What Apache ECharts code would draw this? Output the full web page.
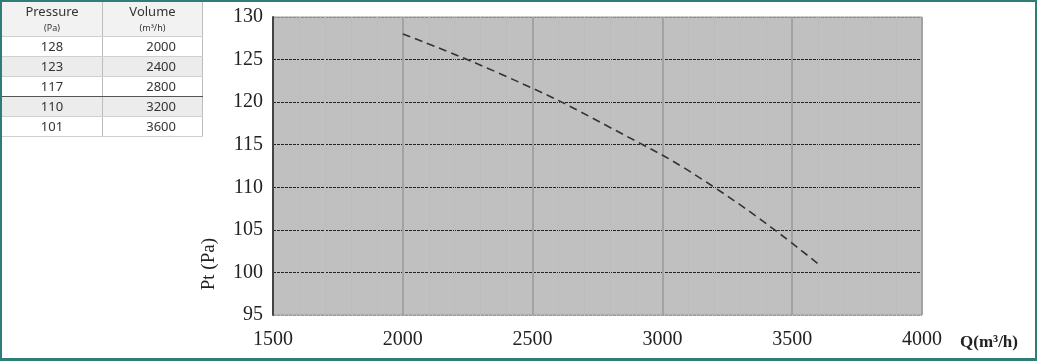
<!DOCTYPE html>
<html>
<head>
<meta charset="utf-8">
<script src="https://cdn.jsdelivr.net/npm/echarts@6/dist/echarts.min.js"></script>
<style>
    html, body { margin: 0; padding: 0; background: #fff; }
    #frame {
        position: absolute; left: 0; top: 0; width: 1037px; height: 361px;
        box-sizing: border-box;
        border-style: solid; border-color: #2e7d79;
        border-width: 2px 2px 3px 2px;
    }
    #chart { position: absolute; left: 0; top: 0; width: 1037px; height: 361px; }
    #table {
        position: absolute; left: 2px; top: 2px;
        border-collapse: collapse;
        font-family: "Noto Sans", sans-serif; color: #333;
    }
    #table td { padding: 0; height: 19px; font-size: 13px; border-bottom: 1px solid #cfcfcf; line-height: 19px; }
    #table td.p { width: 100px; text-align: center; border-right: 1px solid #bdbdbd; }
    #table td.v { width: 100px; text-align: right; padding-right: 26px; box-sizing: border-box; border-right: 1px solid #bdbdbd; }
    #table tr.head td { height: 34px; line-height: 15px; background: #f2f2f2; text-align: center; padding-right: 0; }
    #table tr.head small { font-size: 9px; }
    #table tr.alt td { background: #ececec; }
    #table tr.dark td { border-bottom: 1px solid #555; }
</style>
</head>
<body>
<div id="chart"></div>
<div id="frame"></div>
<table id="table"></table>
<script>
    // 表格和曲线的数据
    const pressure = [128, 123, 117, 110, 101];
    const volume = [2000, 2400, 2800, 3200, 3600];
    const xTicks = [1500, 4000, 500];   // min, max, interval
    const yTicks = [95, 130, 5];

    // 左上角的表格
    let html = '<tr class="head"><td class="p">Pressure<br><small>(Pa)</small></td>'
        + '<td class="v">Volume<br><small>(m³/h)</small></td></tr>';
    pressure.forEach((p, i) => {
        let cls = i % 2 === 1 ? 'alt' : '';
        if (i === 2) cls += ' dark';
        html += '<tr class="' + cls + '"><td class="p">' + p + '</td><td class="v">' + volume[i] + '</td></tr>';
    });
    document.getElementById('table').innerHTML = html;

    const chart = echarts.init(document.getElementById('chart'));
    const serif = '"Liberation Serif", "DejaVu Serif", serif';
    chart.setOption({
        animation: false,
        grid: {
            left: 273, top: 17, right: 115, bottom: 46,
            show: true,
            backgroundColor: '#c0c0c0',
            borderColor: '#9a9a9a',
            borderWidth: 1
        },
        xAxis: {
            type: 'value',
            min: xTicks[0], max: xTicks[1], interval: xTicks[2],
            axisLine: { show: false },
            axisTick: { show: false },
            axisLabel: { color: '#222', fontFamily: serif, fontSize: 20, margin: 15, formatter: v => String(v) },
            splitLine: { lineStyle: { color: '#a2a2a2', width: 2 } },
            minorTick: { show: false, splitNumber: 5 },
            minorSplitLine: { show: true, lineStyle: { color: '#bcbcbc', width: 1 } }
        },
        yAxis: {
            type: 'value',
            min: yTicks[0], max: yTicks[1], interval: yTicks[2],
            axisLine: { show: true, lineStyle: { color: '#444', width: 2 } },
            axisTick: { show: false },
            axisLabel: { color: '#222', fontFamily: serif, fontSize: 20, margin: 10 },
            splitLine: {
                lineStyle: {
                    // 上下两条用浅灰色
                    color: ['#9a9a9a', '#222', '#222', '#222', '#222', '#222', '#222', '#8a8a8a'],
                    type: [3, 1],
                    width: 1
                }
            }
        },
        graphic: [{
            type: 'text',
            left: 200, top: 238,
            rotation: Math.PI / 2,
            style: { text: 'Pt (Pa)', font: '19px ' + serif, fill: '#222' }
        }, {
            type: 'text',
            left: 960, top: 334,
            style: { text: 'Q(m³/h)', font: 'bold 17px ' + serif, fill: '#222' }
        }],
        series: [{
            type: 'line',
            data: volume.map((v, i) => [v, pressure[i]]),
            smooth: true,
            symbol: 'none',
            lineStyle: { color: '#333', width: 1.6, type: [8, 5] }
        }]
    });
</script>
</body>
</html>
